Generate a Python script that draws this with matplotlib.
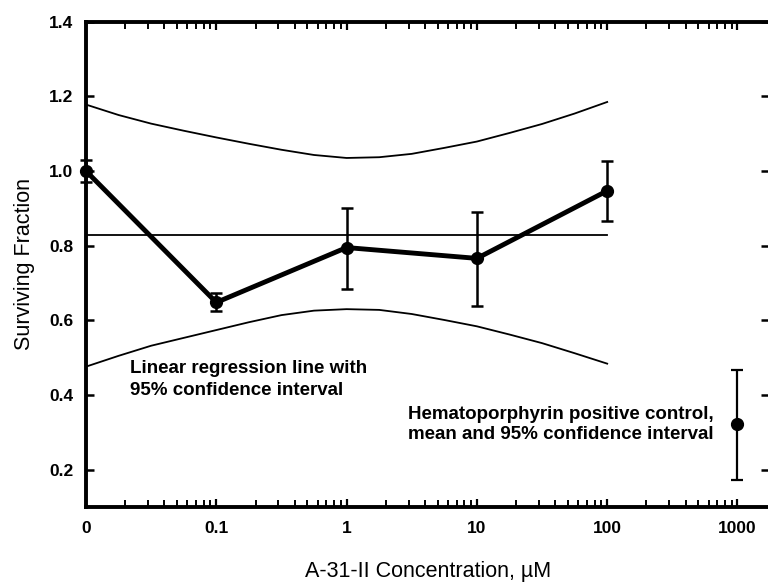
import numpy as np
import matplotlib
matplotlib.use("Agg")
import matplotlib.pyplot as plt
from matplotlib.ticker import FixedLocator, FixedFormatter, LogLocator, NullFormatter

plt.rcParams['font.family'] = ['Liberation Sans', 'DejaVu Sans']

# "0" concentration is drawn one decade below 0.1
conc = [0.01, 0.1, 1, 10, 100]
surv = [1.0, 0.648, 0.795, 0.766, 0.947]
surv_lo = [0.97, 0.624, 0.684, 0.639, 0.866]
surv_hi = [1.03, 0.673, 0.901, 0.891, 1.027]

# hematoporphyrin positive control
hp_conc = [1000]
hp_mean = [0.323]
hp_lo = [0.173]
hp_hi = [0.468]

# regression line and 95% band, read at quarter decades
reg_level = 0.829
band_conc = [0.01, 0.0178, 0.0316, 0.0562, 0.1, 0.178, 0.316, 0.562, 1,
             1.78, 3.16, 5.62, 10, 17.8, 31.6, 56.2, 100]
band_hi = [1.178, 1.150, 1.127, 1.108, 1.090, 1.073, 1.057, 1.043, 1.035,
           1.037, 1.046, 1.062, 1.079, 1.102, 1.126, 1.154, 1.185]
band_lo = [0.476, 0.505, 0.532, 0.553, 0.574, 0.595, 0.614, 0.626, 0.630,
           0.628, 0.617, 0.601, 0.584, 0.562, 0.539, 0.512, 0.484]

xticks = [0.01, 0.1, 1, 10, 100, 1000]
xticklabels = ['0', '0.1', '1', '10', '100', '1000']
yticks = [0.2, 0.4, 0.6, 0.8, 1.0, 1.2, 1.4]

fig = plt.figure(figsize=(7.68, 5.87), dpi=100)
ax = fig.add_axes([0.112, 0.1363, 0.8895, 0.8267])

ax.plot(band_conc, band_hi, color='black', lw=1.3)
ax.plot(band_conc, band_lo, color='black', lw=1.3)
ax.plot([conc[0], conc[-1]], [reg_level, reg_level], color='black', lw=1.3)

yerr = [np.array(surv) - np.array(surv_lo), np.array(surv_hi) - np.array(surv)]
ax.errorbar(conc, surv, yerr=yerr, color='black', lw=3.5, marker='o', ms=8.5,
            elinewidth=1.8, capsize=4.5, capthick=1.8, clip_on=False, zorder=5)

hp_err = [np.array(hp_mean) - np.array(hp_lo), np.array(hp_hi) - np.array(hp_mean)]
ax.errorbar(hp_conc, hp_mean, yerr=hp_err, color='black', marker='o', ms=8.5,
            elinewidth=1.6, capsize=4.5, capthick=1.6, ls='none', zorder=5)

ax.set_xscale('log')
ax.set_xlim(0.01, 1750)
ax.set_ylim(0.1, 1.4)

ax.xaxis.set_major_locator(FixedLocator(xticks))
ax.xaxis.set_major_formatter(FixedFormatter(xticklabels))
ax.xaxis.set_minor_locator(LogLocator(base=10, subs=np.arange(2, 10)))
ax.xaxis.set_minor_formatter(NullFormatter())
ax.set_yticks(yticks)
ax.set_yticklabels(['%.1f' % v for v in yticks])

ax.tick_params(axis='x', which='major', direction='in', top=True, length=6,
               width=1.6, pad=10, labelsize=12.5)
ax.tick_params(axis='x', which='minor', direction='in', top=True, length=5,
               width=1.4)
ax.tick_params(axis='y', which='major', direction='in', right=True, length=6,
               width=1.8, pad=9, labelsize=12.5)
for lab in ax.get_xticklabels() + ax.get_yticklabels():
    lab.set_fontweight('bold')

for side in ['left', 'bottom', 'top', 'right']:
    ax.spines[side].set_linewidth(2.8)

ax.set_xlabel('A-31-II Concentration, \u00b5M', fontsize=15.5, labelpad=18)
ax.set_ylabel('Surviving Fraction', fontsize=15.5, labelpad=10)

ax.text(0.0218, 0.441, 'Linear regression line with\n95% confidence interval',
        fontsize=13.5, fontweight='bold', va='center', ha='left', linespacing=1.35)
ax.text(2.97, 0.321, 'Hematoporphyrin positive control,\nmean and 95% confidence interval',
        fontsize=13.5, fontweight='bold', va='center', ha='left', linespacing=1.3)

fig.savefig('out.png', dpi=100)
